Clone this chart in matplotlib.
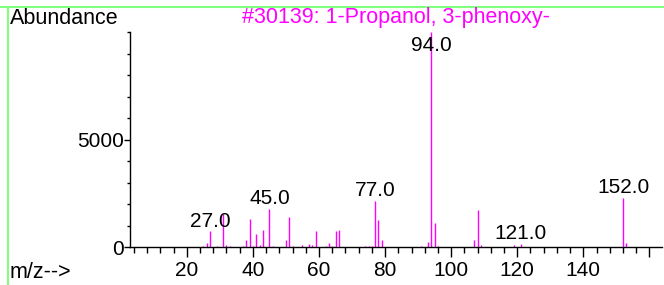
import matplotlib
matplotlib.use("Agg")
import matplotlib.pyplot as plt
from matplotlib.lines import Line2D
from matplotlib.ticker import MultipleLocator

plt.rcParams['font.family'] = ['Liberation Sans', 'DejaVu Sans']

# spectrum: m/z and abundance
mz = [25, 26, 27, 29, 31, 32, 33, 37, 38, 39, 40, 41, 42, 43, 45, 46, 47,
      50, 51, 52, 53, 55, 57, 58, 59, 61, 62, 63, 64, 65, 66, 67, 68,
      74, 75, 76, 77, 78, 79, 80, 88, 91, 93, 94, 95, 96,
      107, 108, 109, 119, 121, 133, 134, 136, 151, 152, 153]
abundance = [50, 217, 743, 60, 1547, 124, 62, 62, 325, 1330, 77, 634, 124, 820, 1795, 62, 30,
             325, 1423, 77, 30, 108, 170, 124, 774, 30, 77, 200, 62, 743, 789, 30, 30,
             62, 62, 77, 2180, 1284, 325, 30, 30, 77, 232, 10000, 1145, 62,
             356, 1733, 124, 108, 170, 30, 30, 30, 30, 2320, 217]
labelled = [27, 45, 77, 94, 121, 152]
x_ticks = [20, 40, 60, 80, 100, 120, 140, 160]
x_tick_labels = ['20', '40', '60', '80', '100', '120', '140', '']
y_ticks = [0, 5000]

title = "#30139: 1-Propanol, 3-phenoxy-"
magenta = '#ff00ff'

fig = plt.figure(figsize=(6.64, 2.85), dpi=100)
ax = fig.add_axes([0.1958, 0.1316, 0.9965 - 0.1958, 0.8877 - 0.1316])

ax.vlines(mz, 0, abundance, color=magenta, lw=1.0)

ax.set_xlim(2.8, 163.7)
ax.set_ylim(0, 10000)

for m in labelled:
    a = abundance[mz.index(m)]
    if a >= 9000:
        ax.annotate('%.1f' % m, (m, 10000), xytext=(0, -3), textcoords='offset points',
                    ha='center', va='top', fontsize=15)
    else:
        ax.annotate('%.1f' % m, (m, a), xytext=(0, 3.2), textcoords='offset points',
                    ha='center', va='baseline', fontsize=15)

for s in ['top', 'right']:
    ax.spines[s].set_visible(False)
ax.spines['left'].set_linewidth(1)
ax.spines['bottom'].set_linewidth(1)

ax.set_xticks(x_ticks)
ax.set_xticklabels(x_tick_labels)
ax.xaxis.set_minor_locator(MultipleLocator(4))
ax.set_yticks(y_ticks)
ax.yaxis.set_minor_locator(MultipleLocator(1000))
ax.tick_params(axis='x', which='major', length=7.5, width=1, labelsize=15, pad=2)
ax.tick_params(axis='x', which='minor', length=4.5, width=1)
ax.tick_params(axis='y', which='major', length=4, width=1, labelsize=15, pad=0.5)
ax.tick_params(axis='y', which='minor', length=2, width=1)

fig.text(10 / 664, 1 - 18 / 285, 'Abundance', ha='left', va='center', fontsize=15.5)
fig.text(396 / 664, 1 - 18 / 285, title, ha='center', va='center', fontsize=15.5, color=magenta)
fig.text(10 / 664, 1 - 273 / 285, 'm/z-->', ha='left', va='center', fontsize=15.5)

# green frame lines
green = '#80ff80'
fig.add_artist(Line2D([0, 1], [1 - 7 / 285, 1 - 7 / 285], transform=fig.transFigure, color=green, lw=1.5))
fig.add_artist(Line2D([8 / 664, 8 / 664], [0, 1 - 7 / 285], transform=fig.transFigure, color=green, lw=1.5))

fig.savefig('out.png', dpi=100)
